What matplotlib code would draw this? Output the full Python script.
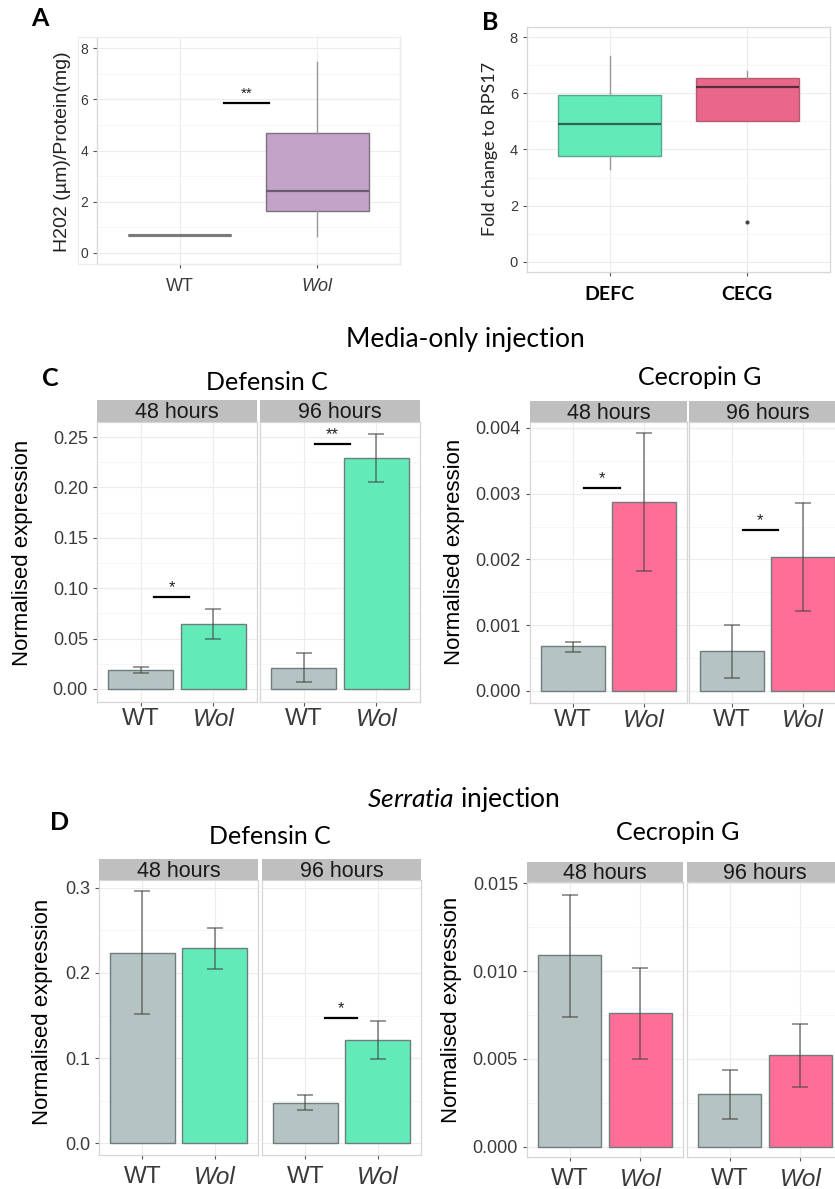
import numpy as np
import matplotlib.pyplot as plt
from matplotlib.patches import Rectangle

plt.rcParams['font.family'] = ['Liberation Sans', 'DejaVu Sans']
plt.rcParams['mathtext.fontset'] = 'custom'
plt.rcParams['mathtext.rm'] = 'Lato'
plt.rcParams['mathtext.it'] = 'Lato:italic'

# Panel A: H2O2 box plot stats (whislo, q1, med, q3, whishi)
a_groups = ['WT', 'Wol']
a_wt = [0.7, 0.7, 0.7, 0.7, 0.7]
a_wol = [0.65, 1.65, 2.4, 4.7, 7.45]

# Panel B: fold change box plot stats
b_genes = ['DEFC', 'CECG']
b_defc = [3.3, 3.78, 4.92, 5.93, 7.32]
b_cecg = [5.03, 5.03, 6.22, 6.55, 6.78]
b_cecg_out = [1.42]

genotypes = ['WT', 'Wol']
times = ['48 hours', '96 hours']

# C: media-only injection, rows = time, cols = genotype
c_def_mean = [[0.019, 0.064], [0.021, 0.229]]
c_def_lo = [[0.016, 0.050], [0.007, 0.205]]
c_def_hi = [[0.022, 0.079], [0.036, 0.253]]
c_cec_mean = [[0.00068, 0.00287], [0.00061, 0.00204]]
c_cec_lo = [[0.00060, 0.00183], [0.00020, 0.00122]]
c_cec_hi = [[0.00074, 0.00392], [0.00101, 0.00286]]

# D: Serratia injection
d_def_mean = [[0.224, 0.229], [0.047, 0.121]]
d_def_lo = [[0.152, 0.205], [0.039, 0.099]]
d_def_hi = [[0.296, 0.253], [0.056, 0.144]]
d_cec_mean = [[0.0109, 0.0076], [0.0030, 0.0052]]
d_cec_lo = [[0.0074, 0.0050], [0.0016, 0.0034]]
d_cec_hi = [[0.0143, 0.0102], [0.0044, 0.0070]]

W, H = 835, 1189
fig = plt.figure(figsize=(W / 100, H / 100), dpi=100)

def box(l, t, r, b):
    return [l / W, 1 - b / H, (r - l) / W, (b - t) / H]

GREY = '#b5c4c3'
GREEN = '#62eab9'
PINK = '#ff6e97'
TICKC = '#3a3a3a'

def gg_style(ax, yticks, minor):
    ax.set_facecolor('white')
    for s in ax.spines.values():
        s.set_color('#d6d6d6')
        s.set_linewidth(0.9)
    ax.set_yticks(yticks)
    ax.set_yticks(minor, minor=True)
    ax.grid(True, which='major', color='#ececec', lw=0.8, zorder=0)
    ax.grid(True, which='minor', axis='y', color='#f3f3f3', lw=0.5, zorder=0)
    ax.tick_params(which='minor', length=0)
    ax.tick_params(colors='#555555', labelcolor=TICKC, length=3, width=0.8)
    ax.set_axisbelow(True)

def italic_wol(ax):
    for lbl in ax.get_xticklabels():
        if lbl.get_text() == 'Wol':
            lbl.set_fontstyle('italic')

def sig(ax, x0, x1, y, txt, dy, size=12):
    ax.plot([x0, x1], [y, y], color='black', lw=1.6, zorder=4)
    ax.text((x0 + x1) / 2, y + dy, txt, ha='center', va='bottom', fontsize=size, color='#222222')

# ---------- Panel A ----------
fig.patches.append(Rectangle((78 / W, 1 - 264 / H), 322 / W, 227 / H, transform=fig.transFigure,
                             fill=False, edgecolor='#ececec', lw=0.8))
axA = fig.add_axes(box(97, 37, 400, 264))
gg_style(axA, [0, 2, 4, 6, 8], [1, 3, 5, 7])
axA.spines['top'].set_visible(False)
statsA = [dict(whislo=s[0], q1=s[1], med=s[2], q3=s[3], whishi=s[4], fliers=[]) for s in (a_wt, a_wol)]
bA = axA.bxp(statsA, positions=[1, 2], widths=0.75, patch_artist=True, showcaps=False,
             boxprops=dict(edgecolor='#7f6f83', lw=1.0),
             medianprops=dict(color='#6b5b6f', lw=1.6),
             whiskerprops=dict(color='#9a9a9a', lw=1.0))
bA['boxes'][0].set_facecolor('#8a8a8a')
bA['boxes'][0].set_edgecolor('#7a7a7a')
bA['boxes'][0].set_linewidth(2.2)
bA['medians'][0].set_color('#7a7a7a')
bA['medians'][0].set_linewidth(2.2)
bA['boxes'][1].set_facecolor('#c1a4c6')
axA.set_xlim(0.4, 2.6)
axA.set_ylim(-0.43, 8.43)
axA.set_xticks([1, 2])
axA.set_xticklabels(a_groups, fontsize=13)
axA.tick_params(axis='x', pad=7)
axA.tick_params(axis='y', labelsize=10)
italic_wol(axA)
sig(axA, 1.32, 1.65, 5.85, '**', 0.1, size=11)
fig.text(63 / W, 1 - 152 / H, 'H202 (\u00b5m)/Protein(mg)', rotation=90, ha='center', va='center',
         fontsize=14, color='#222222')
fig.text(40 / W, 1 - 18 / H, 'A', fontsize=18, fontweight='bold', family='Lato', ha='center', va='center')

# ---------- Panel B ----------
axB = fig.add_axes(box(527, 27, 830, 272))
gg_style(axB, [0, 2, 4, 6, 8], [1, 3, 5, 7])
statsB = [dict(whislo=b_defc[0], q1=b_defc[1], med=b_defc[2], q3=b_defc[3], whishi=b_defc[4], fliers=[]),
          dict(whislo=b_cecg[0], q1=b_cecg[1], med=b_cecg[2], q3=b_cecg[3], whishi=b_cecg[4], fliers=b_cecg_out)]
bB = axB.bxp(statsB, positions=[1, 2], widths=0.75, patch_artist=True, showcaps=False,
             boxprops=dict(lw=1.0),
             medianprops=dict(lw=1.6),
             whiskerprops=dict(color='#9a9a9a', lw=1.0),
             flierprops=dict(marker='o', markersize=2, markerfacecolor='#444444', markeredgecolor='#444444'))
bB['boxes'][0].set_facecolor('#62eab9')
bB['boxes'][0].set_edgecolor('#58a88a')
bB['medians'][0].set_color('#2f6352')
bB['boxes'][1].set_facecolor('#e8678a')
bB['boxes'][1].set_edgecolor('#b45a72')
bB['medians'][1].set_color('#5a2c39')
axB.set_xlim(0.4, 2.6)
axB.set_ylim(-0.36, 8.36)
axB.set_xticks([1, 2])
axB.set_xticklabels(b_genes, fontsize=14, fontweight='bold', family='Lato', color='black')
axB.tick_params(axis='x', pad=7)
axB.tick_params(axis='y', labelsize=10.5)
fig.text(490 / W, 1 - 149 / H, 'Fold change to RPS17', rotation=90, ha='center', va='center',
         fontsize=13, family='Lato', color='#222222')
fig.text(490 / W, 1 - 22 / H, 'B', fontsize=18, fontweight='bold', family='Lato', ha='center', va='center')

# ---------- Facetted bar panels ----------
def facet(lefts, top, bottom, pw, strip_h, mean, lo, hi, color, ylim, yticks, minor, fmt, xpad):
    axes = []
    for k in range(2):
        l = lefts[k]
        ax = fig.add_axes(box(l, top, l + pw, bottom))
        gg_style(ax, yticks, minor)
        x = np.arange(1, 3)
        m = np.array(mean[k])
        err = [m - np.array(lo[k]), np.array(hi[k]) - m]
        ax.bar(x, m, width=0.9, color=[GREY, color], edgecolor='#6e7d7c', lw=1.0, zorder=2)
        ax.errorbar(x, m, yerr=err, fmt='none', ecolor='#444444', alpha=0.7, capsize=6,
                    elinewidth=1.1, capthick=1.1, zorder=3)
        ax.set_xlim(0.4, 2.6)
        ax.set_ylim(*ylim)
        ax.set_xticks(x)
        ax.set_xticklabels(genotypes, fontsize=17.5)
        ax.tick_params(axis='x', pad=xpad)
        italic_wol(ax)
        if k == 0:
            ax.set_yticklabels([fmt.format(v) for v in yticks], fontsize=13)
        else:
            ax.tick_params(axis='y', length=0, labelleft=False)
        st = fig.add_axes(box(l, top - strip_h, l + pw, top))
        st.set_facecolor('#bfbfbf')
        st.set_xticks([])
        st.set_yticks([])
        for s in st.spines.values():
            s.set_visible(False)
        st.text(0.5, 0.42, times[k], ha='center', va='center', fontsize=15.5, color='#1a1a1a',
                transform=st.transAxes)
        axes.append(ax)
    return axes

# C
fig.text(465 / W, 1 - 340 / H, 'Media-only injection', ha='center', va='center', fontsize=19, family='Lato')
fig.text(50 / W, 1 - 378 / H, 'C', fontsize=18, fontweight='bold', family='Lato', ha='center', va='center')
fig.text(267 / W, 1 - 382 / H, 'Defensin C', ha='center', va='center', fontsize=18, family='Lato')
fig.text(700 / W, 1 - 377 / H, 'Cecropin G', ha='center', va='center', fontsize=18, family='Lato')

cd = facet([97, 260], 422, 702, 160, 22, c_def_mean, c_def_lo, c_def_hi, GREEN,
           (-0.0129, 0.2649), [0, 0.05, 0.10, 0.15, 0.20, 0.25], [0.025, 0.075, 0.125, 0.175, 0.225],
           '{:.2f}', 1)
sig(cd[0], 1.18, 1.67, 0.091, '*', 0.002)
sig(cd[1], 1.16, 1.64, 0.243, '**', 0.002)
fig.text(23 / W, 1 - 553 / H, 'Normalised expression', rotation=90, ha='center', va='center', fontsize=16)

cc = facet([530, 689], 422, 703, 157, 21, c_cec_mean, c_cec_lo, c_cec_hi, PINK,
           (-0.000183, 0.00409), [0, 0.001, 0.002, 0.003, 0.004], [0.0005, 0.0015, 0.0025, 0.0035],
           '{:.3f}', 1)
sig(cc[0], 1.15, 1.66, 0.00308, '*', 0.00003)
sig(cc[1], 1.15, 1.65, 0.00245, '*', 0.00003)
fig.text(455 / W, 1 - 552 / H, 'Normalised expression', rotation=90, ha='center', va='center', fontsize=16)

# D
fig.text(463 / W, 1 - 800 / H, r'$\it{Serratia}$ injection', ha='center', va='center', fontsize=19,
         family='Lato')
fig.text(60 / W, 1 - 822 / H, 'D', fontsize=18, fontweight='bold', family='Lato', ha='center', va='center')
fig.text(270 / W, 1 - 837 / H, 'Defensin C', ha='center', va='center', fontsize=18, family='Lato')
fig.text(678 / W, 1 - 833 / H, 'Cecropin G', ha='center', va='center', fontsize=18, family='Lato')

dd = facet([99, 262], 880, 1155, 159, 21, d_def_mean, d_def_lo, d_def_hi, GREEN,
           (-0.0141, 0.3094), [0, 0.1, 0.2, 0.3], [0.05, 0.15, 0.25],
           '{:.1f}', 5)
sig(dd[1], 1.27, 1.71, 0.147, '*', 0.002)
fig.text(43 / W, 1 - 1012 / H, 'Normalised expression', rotation=90, ha='center', va='center', fontsize=16)

dc = facet([527, 687], 882, 1157, 156, 20, d_cec_mean, d_cec_lo, d_cec_hi, PINK,
           (-0.00057, 0.01506), [0, 0.005, 0.010, 0.015], [0.0025, 0.0075, 0.0125],
           '{:.3f}', 5)
fig.text(452 / W, 1 - 1010 / H, 'Normalised expression', rotation=90, ha='center', va='center', fontsize=16)

fig.savefig('out.png', dpi=100, facecolor='white')
